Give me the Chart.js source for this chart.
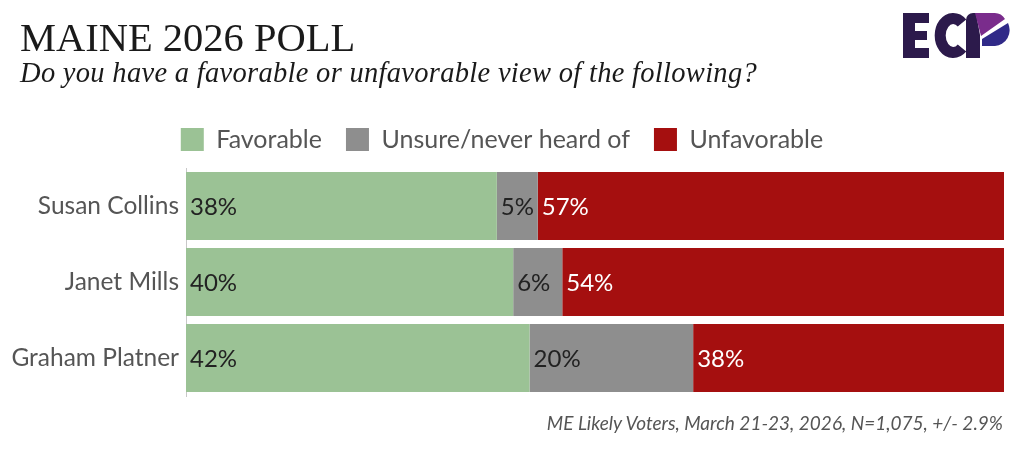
<!DOCTYPE html>
<html>
<head>
<meta charset="utf-8">
<script src="https://cdn.jsdelivr.net/npm/chart.js@4/dist/chart.umd.min.js"></script>
<style>
    html, body { margin: 0; padding: 0; background: #fff; }
    #wrap { position: relative; width: 1024px; height: 456px; overflow: hidden; }
    #chart { position: absolute; left: 0; top: 0; }
    .title { position: absolute; left: 20px; top: 14px; font-family: "Liberation Serif", serif; font-size: 40.5px; color: #1a1a1a; white-space: nowrap; }
    .subtitle { position: absolute; left: 20px; top: 57px; font-family: "Liberation Serif", serif; font-style: italic; font-size: 28.5px; letter-spacing: 0.3px; color: #1a1a1a; white-space: nowrap; }
    .note { position: absolute; right: 21px; top: 413px; line-height: 19px; font-family: Lato, sans-serif; font-style: italic; font-size: 19px; color: #555; white-space: nowrap; }
    #logo { position: absolute; left: 900px; top: 10px; }
</style>
</head>
<body>
<div id="wrap">
    <canvas id="chart" width="1024" height="456"></canvas>
    <div class="title">MAINE 2026 POLL</div>
    <div class="subtitle">Do you have a favorable or unfavorable view of the following?</div>
    <svg id="logo" width="112" height="56" viewBox="0 0 112 56">
        <!-- E -->
        <path d="M3 3 H29 V13 H15 V21 H27 V30 H15 V38 H29 V48 H3 Z" fill="#2c1a4b"/>
        <!-- C -->
        <path d="M62 13 A13 17 0 1 0 62 38" fill="none" stroke="#2c1a4b" stroke-width="11"/>
        <!-- P stem -->
        <path d="M66 48 V10 A7 7 0 0 1 73 3 H76 L80 25 V48 Z" fill="#2c1a4b"/>
        <!-- P bowl -->
        <path d="M75 3 H94 A12 12 0 0 1 105 9 L81 26 Z" fill="#7a2c8c"/>
        <path d="M82 29 L108 13 A16 16 0 0 1 95 36 H82 Z" fill="#302a88"/>
    </svg>
    <div class="note">ME Likely Voters, March 21-23, 2026, N=1,075, +/- 2.9%</div>
</div>
<script>
// Chart data
const candidates = ['Susan Collins', 'Janet Mills', 'Graham Platner'];
const favorable = [38, 40, 42];
const unsure = [5, 6, 20];
const unfavorable = [57, 54, 38];

const FONT = 'Lato';

// Draw value labels at the left edge of each segment
const segmentLabels = {
    id: 'segmentLabels',
    afterDatasetsDraw(chart) {
        const ctx = chart.ctx;
        ctx.save();
        ctx.font = '24px ' + FONT;
        ctx.textAlign = 'left';
        ctx.textBaseline = 'middle';
        chart.data.datasets.forEach((ds, i) => {
            const meta = chart.getDatasetMeta(i);
            meta.data.forEach((bar, j) => {
                ctx.fillStyle = ds.labelColor;
                ctx.fillText(ds.data[j] + '%', Math.min(bar.base, bar.x) + 4, bar.y + 1);
            });
        });
        ctx.restore();
    }
};

// Fixed legend height so the plot area starts where the reference does
const legendHeight = {
    id: 'legendHeight',
    beforeInit(chart) {
        const fit = chart.legend.fit;
        chart.legend.fit = function () {
            fit.call(this);
            this.height = 65;
        };
    }
};

new Chart(document.getElementById('chart').getContext('2d'), {
    type: 'bar',
    data: {
        labels: candidates,
        datasets: [
            { label: 'Favorable', data: favorable, backgroundColor: '#9bc295', labelColor: '#222' },
            { label: 'Unsure/never heard of', data: unsure, backgroundColor: '#8e8e8e', labelColor: '#222' },
            { label: 'Unfavorable', data: unfavorable, backgroundColor: '#a50f0f', labelColor: '#fff' }
        ]
    },
    options: {
        indexAxis: 'y',
        responsive: false,
        animation: false,
        events: [],
        layout: { padding: { top: 103, bottom: 60, left: 0, right: 20 } },
        datasets: { bar: { barPercentage: 1, categoryPercentage: 0.895 } },
        scales: {
            x: {
                stacked: true, min: 0, max: 100,
                display: false
            },
            y: {
                stacked: true,
                grid: { display: false, drawTicks: false },
                border: { display: true, color: '#c8c8c8', width: 1 },
                ticks: { color: '#555', font: { family: FONT, size: 24.5 }, padding: 7 },
                afterFit(scale) { scale.width = 186; }
            }
        },
        plugins: {
            legend: {
                position: 'top',
                labels: {
                    boxWidth: 23, boxHeight: 23, padding: 24,
                    color: '#555', font: { family: FONT, size: 25 }
                }
            },
            tooltip: { enabled: false }
        }
    },
    plugins: [segmentLabels, legendHeight]
});
</script>
</body>
</html>
